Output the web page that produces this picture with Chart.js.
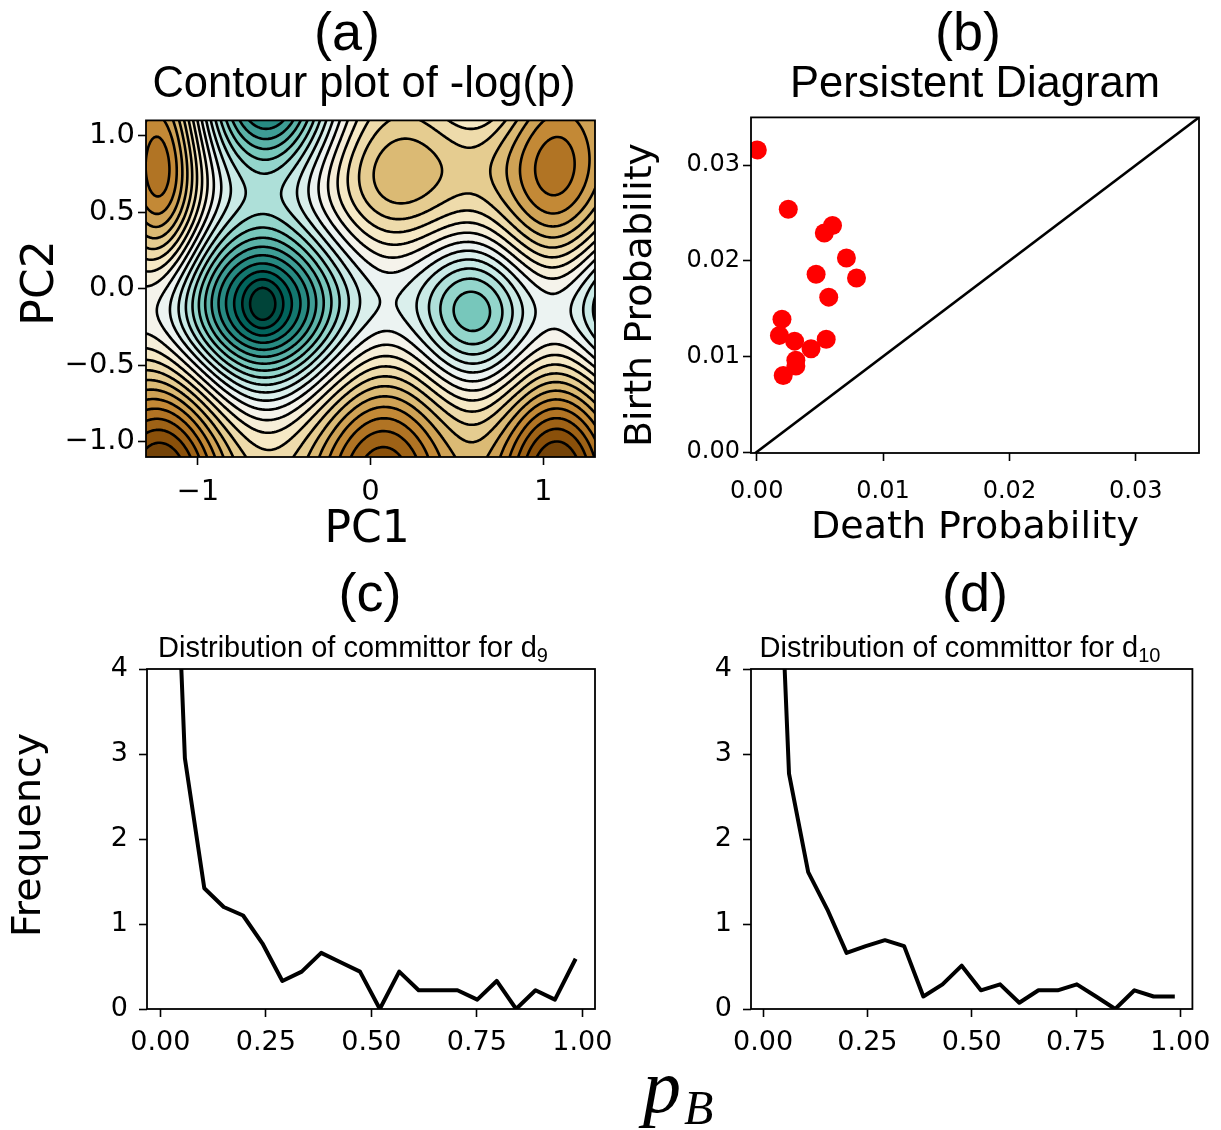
<!DOCTYPE html>
<html>
<head>
<meta charset="utf-8">
<script src="https://cdn.jsdelivr.net/npm/chart.js@4.4.1/dist/chart.umd.min.js"></script>
<style>
  html, body { margin: 0; padding: 0; background: #fff; }
  #page { position: relative; width: 1221px; height: 1130px; background: #fff; overflow: hidden; }
  #page canvas { position: absolute; }
  #labels { position: absolute; left: 0; top: 0; pointer-events: none; }
</style>
</head>
<body>
<div id="page">
  <canvas id="chartA"></canvas>
  <canvas id="chartB"></canvas>
  <canvas id="chartC"></canvas>
  <canvas id="chartD"></canvas>
  <svg id="labels" width="1221" height="1130" xmlns="http://www.w3.org/2000/svg">
    <g font-family="Liberation Sans, Arial, sans-serif" fill="#000" text-anchor="middle">
      <text x="347" y="50" font-size="54">(a)</text>
      <text x="364" y="97" font-size="43.5">Contour plot of -log(p)</text>
      <text x="968" y="50" font-size="54">(b)</text>
      <text x="975" y="97" font-size="43.5">Persistent Diagram</text>
      <text x="370" y="611" font-size="54">(c)</text>
      <text x="353" y="657" font-size="29">Distribution of committor for d<tspan font-size="20" dy="5">9</tspan></text>
      <text x="975" y="611" font-size="54">(d)</text>
      <text x="960" y="657" font-size="29">Distribution of committor for d<tspan font-size="20" dy="5">10</tspan></text>
    </g>
    <g font-family="DejaVu Sans, sans-serif" fill="#000" text-anchor="middle">
      <text x="367" y="542" font-size="44">PC1</text>
      <text transform="translate(53,283) rotate(-90)" font-size="44">PC2</text>
      <text x="975" y="538" font-size="38">Death Probability</text>
      <text transform="translate(651,295) rotate(-90)" font-size="38">Birth Probability</text>
      <text transform="translate(40,835) rotate(-90)" font-size="39.5">Frequency</text>
    </g>
    <text x="643" y="1112" font-family="Liberation Serif, serif" font-style="italic" font-size="76" fill="#000">p<tspan font-size="48" dx="3" dy="12">B</tspan></text>
  </svg>
</div>
<script>
// ---- panel (a): -log(p) landscape ----
const contourLevels = [1, 2, 3, 4, 5, 6, 7, 8, 9, 10, 11, 12, 13, 14, 15, 16, 17, 18, 19, 20, 21, 22, 23, 24, 25];
const fieldBase = 16;
const channelAmp = -2.5, channelY = -0.12, channelWidth = 0.3;
// wells (negative) and hills (positive) of the landscape
const bumpAmp = [-1.5, -12, -6.55, -13, -5, -8, -4, 9.5, 8, 9.5, 6.5, 3.2, 5.8];
const bumpX   = [-0.625, -0.625, 0.60, -0.60, -2.0, 1.60, 0.65, -1.21, 0.07, 1.08, -1.21, 0.17, 1.07];
const bumpY   = [-0.10, -0.10, -0.17, 1.30, -0.15, -0.12, 1.45, -1.25, -1.25, -1.25, 0.78, 0.73, 0.75];
const bumpSx  = [0.07, 0.33, 0.25, 0.28, 0.30, 0.30, 0.20, 0.27, 0.30, 0.25, 0.16, 0.30, 0.26];
const bumpSy  = [0.12, 0.45, 0.40, 0.40, 0.42, 0.40, 0.30, 0.48, 0.48, 0.48, 0.50, 0.31, 0.50];
const aXTicks = [-1, 0, 1];
const aXTickLabels = ['\u22121', '0', '1'];
const aYTicks = [1.0, 0.5, 0.0, -0.5, -1.0];
const aYTickLabels = ['1.0', '0.5', '0.0', '\u22120.5', '\u22121.0'];

// ---- panel (b): persistence diagram ----
const deathProb = [0.00005, 0.0025, 0.0060, 0.00535, 0.0071, 0.0047, 0.0079, 0.0057, 0.0020, 0.0018, 0.0030, 0.0055, 0.0043, 0.0031, 0.0031, 0.0021];
const birthProb = [0.0316, 0.0254, 0.0237, 0.0229, 0.0203, 0.0186, 0.0182, 0.0162, 0.0139, 0.0122, 0.0116, 0.0118, 0.0108, 0.0096, 0.0090, 0.0080];
const diagonal = [-0.0005, 0.035];
const bTicks = [0.00, 0.01, 0.02, 0.03];
const bTickLabels = ['0.00', '0.01', '0.02', '0.03'];

// ---- panels (c), (d): committor distributions ----
const pB9 = [0.011, 0.058, 0.104, 0.150, 0.196, 0.242, 0.289, 0.335, 0.381, 0.427, 0.473, 0.520, 0.566, 0.612, 0.658, 0.704, 0.751, 0.797, 0.843, 0.889, 0.935, 0.982];
const freq9 = [8.8, 2.95, 1.42, 1.20, 1.10, 0.77, 0.33, 0.44, 0.66, 0.55, 0.44, 0.0, 0.44, 0.22, 0.22, 0.22, 0.11, 0.33, 0.0, 0.22, 0.11, 0.57];
const pB10 = [0.016, 0.062, 0.108, 0.154, 0.200, 0.246, 0.292, 0.338, 0.384, 0.430, 0.476, 0.522, 0.568, 0.614, 0.660, 0.706, 0.752, 0.798, 0.844, 0.890, 0.936, 0.982];
const freq10 = [8.2, 2.77, 1.61, 1.17, 0.66, 0.74, 0.81, 0.74, 0.147, 0.29, 0.51, 0.22, 0.29, 0.074, 0.22, 0.22, 0.29, 0.147, 0.0, 0.22, 0.147, 0.147];
const pTicks = [0, 0.25, 0.5, 0.75, 1];
const pTickLabels = ['0.00', '0.25', '0.50', '0.75', '1.00'];
const fTicks = [0, 1, 2, 3, 4];
const fTickLabels = ['0', '1', '2', '3', '4'];

// BrBG colour map stops
const brbgStops = ['#543005', '#8c510a', '#bf812d', '#dfc27d', '#f6e8c3', '#f5f5f5', '#c7eae5', '#80cdc1', '#35978f', '#01665e', '#003c30'];

function hexToRgb(h) {
  const n = parseInt(h.slice(1), 16);
  return [(n >> 16) & 255, (n >> 8) & 255, n & 255];
}
function brbg(t) {
  t = Math.min(1, Math.max(0, t));
  const pos = t * (brbgStops.length - 1);
  const i = Math.min(Math.floor(pos), brbgStops.length - 2);
  const f = pos - i;
  const a = hexToRgb(brbgStops[i]), b = hexToRgb(brbgStops[i + 1]);
  return a.map((c, k) => Math.round(c + (b[k] - c) * f));
}
const bandColors = [];
for (let b = 0; b <= contourLevels.length; b++) {
  bandColors.push(brbg(1 - (b + 0.5) / (contourLevels.length + 1)));
}

function fieldValue(x, y) {
  let v = fieldBase + channelAmp * Math.exp(-((y - channelY) ** 2) / (2 * channelWidth ** 2));
  for (let k = 0; k < bumpAmp.length; k++) {
    const dx = (x - bumpX[k]) / bumpSx[k];
    const dy = (y - bumpY[k]) / bumpSy[k];
    v += bumpAmp[k] * Math.exp(-0.5 * (dx * dx + dy * dy));
  }
  return v;
}
function bandOf(v) {
  let b = 0;
  while (b < contourLevels.length && v >= contourLevels[b]) b++;
  return b;
}

// filled contours + black contour lines, placed through the chart scales
const contourPlugin = {
  id: 'contourField',
  beforeDatasetsDraw(chart) {
    const { ctx, chartArea: area, scales } = chart;
    const xs = scales.x, ys = scales.y;
    const w = Math.round(area.right - area.left), h = Math.round(area.bottom - area.top);
    const off = document.createElement('canvas');
    off.width = w; off.height = h;
    const octx = off.getContext('2d');
    const img = octx.createImageData(w, h);
    for (let j = 0; j < h; j++) {
      const y = ys.getValueForPixel(area.top + j + 0.5);
      for (let i = 0; i < w; i++) {
        const x = xs.getValueForPixel(area.left + i + 0.5);
        const c = bandColors[bandOf(fieldValue(x, y))];
        const p = (j * w + i) * 4;
        img.data[p] = c[0]; img.data[p + 1] = c[1]; img.data[p + 2] = c[2]; img.data[p + 3] = 255;
      }
    }
    octx.putImageData(img, 0, 0);
    ctx.drawImage(off, area.left, area.top);

    // marching squares on a 2px grid
    const step = 2;
    const nx = Math.ceil(w / step) + 2, ny = Math.ceil(h / step) + 2;
    const grid = [];
    for (let j = 0; j < ny; j++) {
      const row = [];
      const y = ys.getValueForPixel(area.top + (j - 1) * step);
      for (let i = 0; i < nx; i++) {
        row.push(fieldValue(xs.getValueForPixel(area.left + (i - 1) * step), y));
      }
      grid.push(row);
    }
    ctx.save();
    ctx.beginPath();
    ctx.rect(area.left, area.top, area.right - area.left, area.bottom - area.top);
    ctx.clip();
    ctx.strokeStyle = '#000';
    ctx.lineWidth = 2.6;
    ctx.lineCap = 'round';
    ctx.lineJoin = 'round';
    contourLevels.forEach(L => {
      ctx.beginPath();
      for (let j = 0; j < ny - 1; j++) {
        for (let i = 0; i < nx - 1; i++) {
          const v00 = grid[j][i], v10 = grid[j][i + 1], v11 = grid[j + 1][i + 1], v01 = grid[j + 1][i];
          const code = (v00 > L ? 8 : 0) | (v10 > L ? 4 : 0) | (v11 > L ? 2 : 0) | (v01 > L ? 1 : 0);
          if (code === 0 || code === 15) continue;
          const x0 = area.left + (i - 1) * step, y0 = area.top + (j - 1) * step;
          const top = () => [x0 + step * (L - v00) / (v10 - v00), y0];
          const right = () => [x0 + step, y0 + step * (L - v10) / (v11 - v10)];
          const bottom = () => [x0 + step * (L - v01) / (v11 - v01), y0 + step];
          const left = () => [x0, y0 + step * (L - v00) / (v01 - v00)];
          const seg = (a, b) => { ctx.moveTo(a[0], a[1]); ctx.lineTo(b[0], b[1]); };
          switch (code) {
            case 1: case 14: seg(left(), bottom()); break;
            case 2: case 13: seg(bottom(), right()); break;
            case 3: case 12: seg(left(), right()); break;
            case 4: case 11: seg(top(), right()); break;
            case 6: case 9: seg(top(), bottom()); break;
            case 7: case 8: seg(top(), left()); break;
            case 5: seg(top(), right()); seg(left(), bottom()); break;
            case 10: seg(top(), left()); seg(bottom(), right()); break;
          }
        }
      }
      ctx.stroke();
    });
    ctx.restore();
  }
};

const framePlugin = {
  id: 'frame',
  afterDatasetsDraw(chart) {
    const { ctx, chartArea: a } = chart;
    ctx.save();
    ctx.strokeStyle = '#000';
    ctx.lineWidth = 1.8;
    ctx.strokeRect(a.left, a.top, a.right - a.left, a.bottom - a.top);
    ctx.restore();
  }
};

function axis(min, max, ticks, labels, fontSize, pad) {
  return {
    type: 'linear',
    min: min,
    max: max,
    afterBuildTicks: s => { s.ticks = ticks.map(v => ({ value: v })); },
    ticks: {
      callback: (v, i) => labels[i],
      font: { family: 'DejaVu Sans', size: fontSize },
      color: '#000',
      padding: pad,
      autoSkip: false,
      maxRotation: 0,
      minRotation: 0
    },
    grid: { display: true, drawOnChartArea: false, drawTicks: true, tickLength: 8, tickWidth: 1.6, tickColor: '#000' },
    border: { display: false }
  };
}

// box: canvas position on the page, area: wanted plot rectangle on the page
function makePanel(id, box, area, xAxis, yAxis, datasets, plugins) {
  const canvas = document.getElementById(id);
  canvas.width = box.width;
  canvas.height = box.height;
  canvas.style.left = box.left + 'px';
  canvas.style.top = box.top + 'px';
  xAxis.afterFit = s => { s.height = box.top + box.height - area.bottom; };
  yAxis.afterFit = s => { s.width = area.left - box.left; };
  return new Chart(canvas, {
    type: 'scatter',
    data: { datasets: datasets },
    options: {
      responsive: false,
      animation: false,
      devicePixelRatio: 1,
      layout: { padding: { top: area.top - box.top, right: box.left + box.width - area.right, left: 0, bottom: 0 } },
      plugins: { legend: { display: false }, tooltip: { enabled: false } },
      scales: { x: xAxis, y: yAxis }
    },
    plugins: plugins
  });
}

makePanel('chartA',
  { left: 0, top: 100, width: 640, height: 410 },
  { left: 146, top: 116, right: 595, bottom: 457 },
  axis(-1.3, 1.3, aXTicks, aXTickLabels, 29, 10),
  axis(-1.1, 1.1, aYTicks, aYTickLabels, 29, 3),
  [],
  [contourPlugin, framePlugin]);

makePanel('chartB',
  { left: 640, top: 100, width: 581, height: 410 },
  { left: 751, top: 116, right: 1199, bottom: 453 },
  axis(-0.00045, 0.035, bTicks, bTickLabels, 24, 16),
  axis(-0.0001, 0.035, bTicks, bTickLabels, 24, 3),
  [
    {
      data: diagonal.map(v => ({ x: v, y: v })),
      showLine: true, borderColor: '#000', borderWidth: 2.6, pointRadius: 0
    },
    {
      data: deathProb.map((d, i) => ({ x: d, y: birthProb[i] })),
      backgroundColor: '#ff0000', borderWidth: 0, pointRadius: 9.5
    }
  ],
  [framePlugin]);

function committorSet(xs, ys) {
  return {
    data: xs.map((x, i) => ({ x: x, y: ys[i] })),
    showLine: true, borderColor: '#000', borderWidth: 4, pointRadius: 0,
    borderJoinStyle: 'round', borderCapStyle: 'square'
  };
}

makePanel('chartC',
  { left: 0, top: 640, width: 640, height: 420 },
  { left: 147, top: 669, right: 595, bottom: 1009 },
  axis(-0.0318, 1.030, pTicks, pTickLabels, 27, 10),
  axis(0, 4, fTicks, fTickLabels, 27, 11),
  [committorSet(pB9, freq9)],
  [framePlugin]);

makePanel('chartD',
  { left: 640, top: 640, width: 581, height: 420 },
  { left: 751, top: 669, right: 1198, bottom: 1009 },
  axis(-0.0291, 1.029, pTicks, pTickLabels, 27, 10),
  axis(0, 4, fTicks, fTickLabels, 27, 11),
  [committorSet(pB10, freq10)],
  [framePlugin]);
</script>
</body>
</html>
